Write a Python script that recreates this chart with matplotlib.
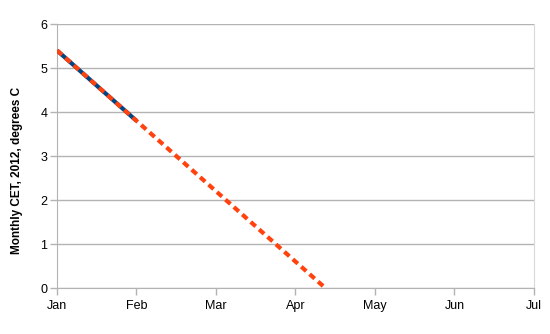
import numpy as np
from matplotlib import pyplot as plt

plt.rcParams['font.family'] = ['Liberation Sans', 'DejaVu Sans']

months = ["Jan", "Feb", "Mar", "Apr", "May", "Jun", "Jul"]
# actual monthly CET 2012
actual_x = [0, 1]
actual_y = [5.4, 3.8]
# straight-line extrapolation of the trend
trend_x = [0, 3.375]
trend_y = [5.4, 0.0]

fig = plt.figure(figsize=(5.5, 3.34), dpi=100)
ax = fig.add_axes([0.1036, 0.1377, 0.8673, 0.7904])

ax.plot(actual_x, actual_y, color="#004586", lw=3, solid_capstyle="butt", zorder=3)
ax.plot(trend_x, trend_y, color="#ff420e", lw=3, dashes=(1.6, 1.1), zorder=4)

ax.set_xlim(0, 6)
ax.set_ylim(0, 6)
ax.set_xticks(range(len(months)))
ax.set_xticklabels(months)
ax.set_yticks(range(0, 7))

ax.grid(axis="y", color="#b3b3b3", lw=1)
ax.set_axisbelow(True)
for s in ["left", "bottom"]:
    ax.spines[s].set_color("#b3b3b3")
ax.spines["right"].set_color("#d9d9d9")
ax.spines["top"].set_visible(False)
ax.tick_params(axis="both", colors="#b3b3b3", labelcolor="black", labelsize=9, length=5, width=1)
ax.tick_params(axis="y", pad=2)

ax.set_ylabel("Monthly CET, 2012, degrees C", fontsize=8.5, fontweight="bold")
ax.yaxis.set_label_coords(-0.072, 0.447)

fig.savefig("out.png")
